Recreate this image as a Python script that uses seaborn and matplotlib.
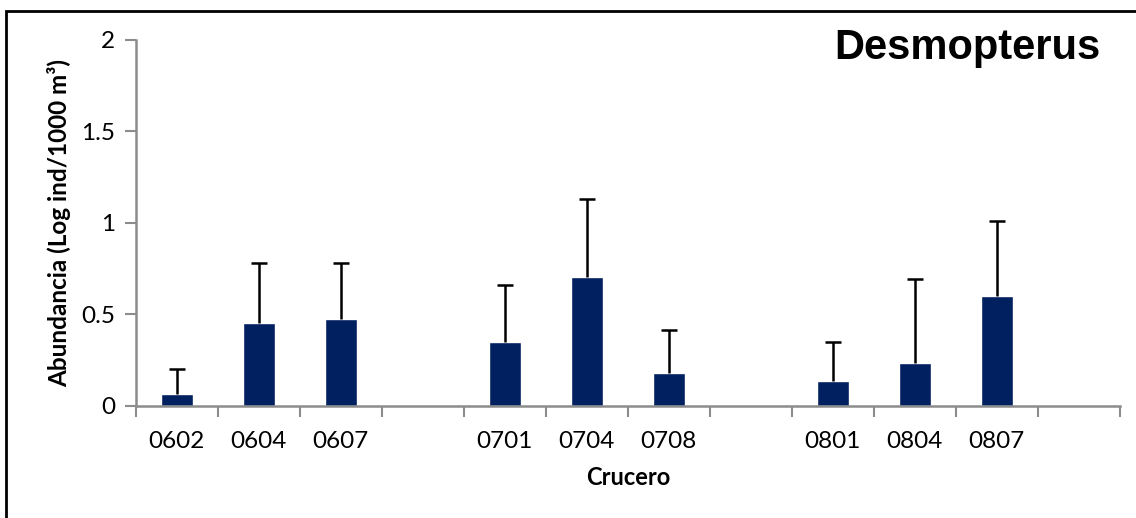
import matplotlib
matplotlib.use("Agg")
import matplotlib.pyplot as plt
import seaborn as sns
import pandas as pd
from matplotlib.patches import Rectangle

# Cruise codes and abundance (mean and upper error) per cruise
cruises = ["0602", "0604", "0607", "0701", "0704", "0708", "0801", "0804", "0807"]
means = [0.066, 0.45, 0.474, 0.347, 0.706, 0.177, 0.137, 0.235, 0.60]
upper = [0.20, 0.78, 0.78, 0.66, 1.129, 0.412, 0.35, 0.695, 1.012]

# Category order with empty slots separating each year
order = ["0602", "0604", "0607", "_a", "0701", "0704", "0708", "_b",
         "0801", "0804", "0807", "_c"]
tick_labels = [c if not c.startswith("_") else "" for c in order]

df = pd.DataFrame({"Crucero": cruises, "Abundancia": means})
errs = [u - m for u, m in zip(upper, means)]

sns.set_theme(style="white")
plt.rcParams["font.family"] = ["Lato", "DejaVu Sans"]
plt.rcParams["text.color"] = "black"
plt.rcParams["axes.labelcolor"] = "black"
plt.rcParams["xtick.labelcolor"] = "black"
plt.rcParams["ytick.labelcolor"] = "black"

fig = plt.figure(figsize=(11.36, 5.18), dpi=100)
ax = fig.add_axes([0.1195, 0.2168, 0.8662, 0.7060])

bar_color = "#002060"
sns.barplot(data=df, x="Crucero", y="Abundancia", order=order, color=bar_color,
            width=0.39, saturation=1, errorbar=None, ax=ax)

pos = [order.index(c) for c in cruises]
eb = ax.errorbar(pos, means, yerr=[[0] * len(errs), errs], fmt="none",
                 ecolor="black", elinewidth=1.8, capsize=6, capthick=1.8, zorder=3)
# keep only the upper caps
eb.lines[1][0].set_visible(False)

ax.set_xlim(-0.5, len(order) - 0.5)
ax.set_ylim(0, 2)
ax.set_yticks([0, 0.5, 1, 1.5, 2])
ax.set_yticklabels(["0", "0.5", "1", "1.5", "2"])
ax.set_xticks(range(len(order)))
ax.set_xticklabels(tick_labels)
ax.set_xticks([i - 0.5 for i in range(len(order) + 1)], minor=True)

ax.tick_params(axis="x", which="major", length=0, pad=18, labelsize=17.5)
ax.tick_params(axis="x", which="minor", length=8, width=1.5, color="#8c8c8c",
               direction="out", bottom=True)
ax.tick_params(axis="y", length=8, width=1.5, color="#8c8c8c",
               direction="out", left=True, labelsize=17.5, pad=7)

for side in ["top", "right"]:
    ax.spines[side].set_visible(False)
for side in ["left", "bottom"]:
    ax.spines[side].set_color("#8c8c8c")
    ax.spines[side].set_linewidth(1.8)

ax.set_xlabel("Crucero", fontsize=17, fontweight="bold", labelpad=10)
ax.set_ylabel("Abundancia (Log ind/1000 m³)", fontsize=17.5, fontweight="bold",
              labelpad=7)

fig.text(0.9685, 0.908, "Desmopterus", ha="right", va="center",
         fontsize=30, fontweight="bold", family="Liberation Sans", color="black")

# Frame around the chart area
fig.patches.append(Rectangle((0.0055, -0.1), 1.2, 1.079, transform=fig.transFigure,
                             fill=False, edgecolor="black", linewidth=2))

fig.savefig("out.png", dpi=100)
